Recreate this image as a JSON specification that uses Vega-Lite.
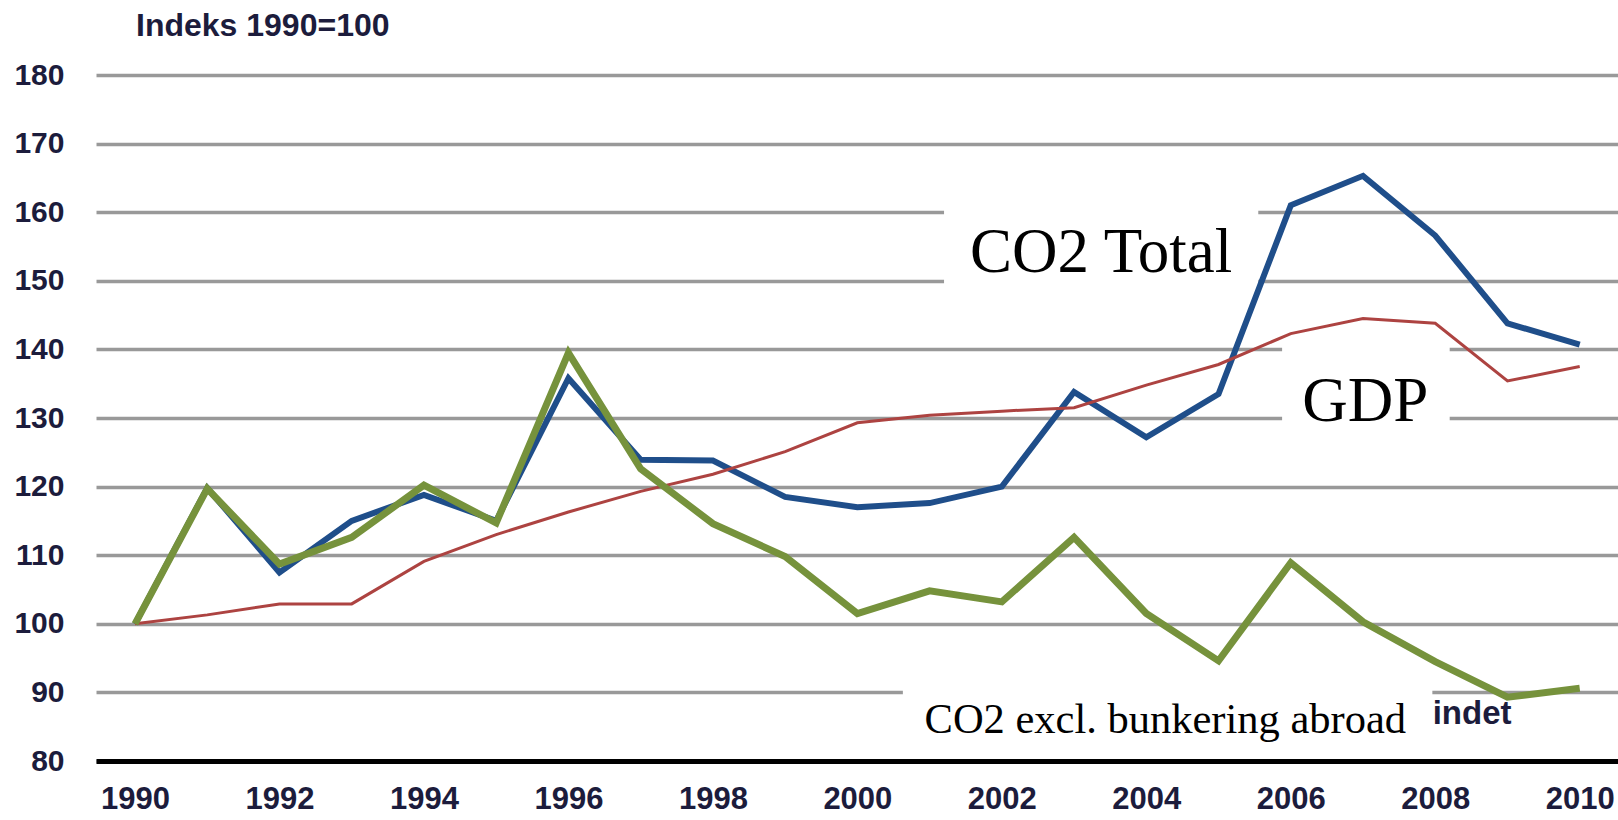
{
  "$schema": "https://vega.github.io/schema/vega-lite/v6.json",
  "width": 1522,
  "height": 686,
  "autosize": {"type": "none"},
  "padding": {"left": 96, "top": 75, "right": 0, "bottom": 59},
  "background": "white",
  "config": {"view": {"stroke": null}, "font": "Liberation Sans"},
  "title": {"text": "Indeks 1990=100", "anchor": "start", "frame": "group", "dx": 40, "offset": 17, "fontSize": 32, "fontWeight": "bold", "color": "#1c1c3c", "font": "Liberation Sans"},
  "datasets": {
    "series": [
      {"year": 1990, "co2_total": 100, "gdp": 100, "co2_excl": 100},
      {"year": 1991, "co2_total": 119.8, "gdp": 101.3, "co2_excl": 119.7},
      {"year": 1992, "co2_total": 107.5, "gdp": 102.9, "co2_excl": 108.7},
      {"year": 1993, "co2_total": 115, "gdp": 102.9, "co2_excl": 112.6},
      {"year": 1994, "co2_total": 118.8, "gdp": 109.1, "co2_excl": 120.2},
      {"year": 1995, "co2_total": 115, "gdp": 113, "co2_excl": 114.7},
      {"year": 1996, "co2_total": 135.8, "gdp": 116.3, "co2_excl": 139.5},
      {"year": 1997, "co2_total": 123.9, "gdp": 119.3, "co2_excl": 122.6},
      {"year": 1998, "co2_total": 123.8, "gdp": 121.8, "co2_excl": 114.6},
      {"year": 1999, "co2_total": 118.5, "gdp": 125.1, "co2_excl": 109.8},
      {"year": 2000, "co2_total": 117, "gdp": 129.3, "co2_excl": 101.5},
      {"year": 2001, "co2_total": 117.6, "gdp": 130.4, "co2_excl": 104.8},
      {"year": 2002, "co2_total": 120, "gdp": 131, "co2_excl": 103.2},
      {"year": 2003, "co2_total": 133.8, "gdp": 131.5, "co2_excl": 112.6},
      {"year": 2004, "co2_total": 127.2, "gdp": 134.8, "co2_excl": 101.5},
      {"year": 2005, "co2_total": 133.5, "gdp": 137.8, "co2_excl": 94.6},
      {"year": 2006, "co2_total": 161, "gdp": 142.3, "co2_excl": 108.9},
      {"year": 2007, "co2_total": 165.3, "gdp": 144.5, "co2_excl": 100.3},
      {"year": 2008, "co2_total": 156.6, "gdp": 143.8, "co2_excl": 94.5},
      {"year": 2009, "co2_total": 143.8, "gdp": 135.4, "co2_excl": 89.3},
      {"year": 2010, "co2_total": 140.7, "gdp": 137.5, "co2_excl": 90.6}
    ],
    "boxes": [
      {"x1": 2001.2, "x2": 2005.55, "y1": 145, "y2": 165},
      {"x1": 2005.88, "x2": 2008.2, "y1": 126, "y2": 141},
      {"x1": 2000.63, "x2": 2007.96, "y1": 83, "y2": 95}
    ],
    "labels": [
      {"label": "CO2 Total", "year": 2001.56, "value": 151.3},
      {"label": "GDP", "year": 2006.16, "value": 129.6},
      {"label": "CO2 excl. bunkering abroad", "year": 2000.93, "value": 84.06},
      {"label": "indet", "year": 2008.51, "value": 86.9}
    ]
  },
  "layer": [
    {
      "data": {"name": "boxes"},
      "mark": {"type": "rect", "fill": "white", "stroke": null},
      "encoding": {
        "x": {"field": "x1", "type": "quantitative",
          "scale": {"domain": [1989.46, 2010.53], "nice": false, "zero": false},
          "axis": {"values": [1990, 1992, 1994, 1996, 1998, 2000, 2002, 2004, 2006, 2008, 2010], "format": "d", "grid": false, "ticks": false, "domain": true, "domainColor": "#000000", "domainWidth": 5, "labelFontSize": 31, "labelFontWeight": "bold", "labelColor": "#1c1c3c", "labelPadding": 23, "labelFlush": false, "labelOverlap": false, "title": null}},
        "x2": {"field": "x2"},
        "y": {"field": "y1", "type": "quantitative",
          "scale": {"domain": [80, 180], "nice": false, "zero": false},
          "axis": {"values": [80, 90, 100, 110, 120, 130, 140, 150, 160, 170, 180], "grid": true, "gridColor": "#999999", "gridWidth": 3.5, "ticks": false, "domain": false, "labelFontSize": 30, "labelFontWeight": "bold", "labelColor": "#1c1c3c", "labelPadding": 32, "labelFlush": false, "labelOverlap": false, "title": null}},
        "y2": {"field": "y2"}
      }
    },
    {
      "data": {"name": "series"},
      "mark": {"type": "line", "color": "#1f4e8a", "strokeWidth": 6},
      "encoding": {
        "x": {"field": "year", "type": "quantitative"},
        "y": {"field": "co2_total", "type": "quantitative"}
      }
    },
    {
      "data": {"name": "series"},
      "mark": {"type": "line", "color": "#ad4341", "strokeWidth": 3},
      "encoding": {
        "x": {"field": "year", "type": "quantitative"},
        "y": {"field": "gdp", "type": "quantitative"}
      }
    },
    {
      "data": {"name": "series"},
      "mark": {"type": "line", "color": "#76923c", "strokeWidth": 7},
      "encoding": {
        "x": {"field": "year", "type": "quantitative"},
        "y": {"field": "co2_excl", "type": "quantitative"}
      }
    },
    {
      "data": {"name": "labels"},
      "transform": [{"filter": "datum.label == 'CO2 Total' || datum.label == 'GDP'"}],
      "mark": {"type": "text", "font": "Liberation Serif", "fontSize": 63, "align": "left", "baseline": "alphabetic", "color": "#000000"},
      "encoding": {
        "x": {"field": "year", "type": "quantitative"},
        "y": {"field": "value", "type": "quantitative"},
        "text": {"field": "label"}
      }
    },
    {
      "data": {"name": "labels"},
      "transform": [{"filter": "datum.label == 'CO2 excl. bunkering abroad'"}],
      "mark": {"type": "text", "font": "Liberation Serif", "fontSize": 42.5, "align": "left", "baseline": "alphabetic", "color": "#000000"},
      "encoding": {
        "x": {"field": "year", "type": "quantitative"},
        "y": {"field": "value", "type": "quantitative"},
        "text": {"field": "label"}
      }
    },
    {
      "data": {"name": "labels"},
      "transform": [{"filter": "datum.label == 'indet'"}],
      "mark": {"type": "text", "font": "Liberation Sans", "fontWeight": "bold", "fontSize": 33, "align": "center", "baseline": "middle", "color": "#1c1c3c"},
      "encoding": {
        "x": {"field": "year", "type": "quantitative"},
        "y": {"field": "value", "type": "quantitative"},
        "text": {"field": "label"}
      }
    }
  ]
}
